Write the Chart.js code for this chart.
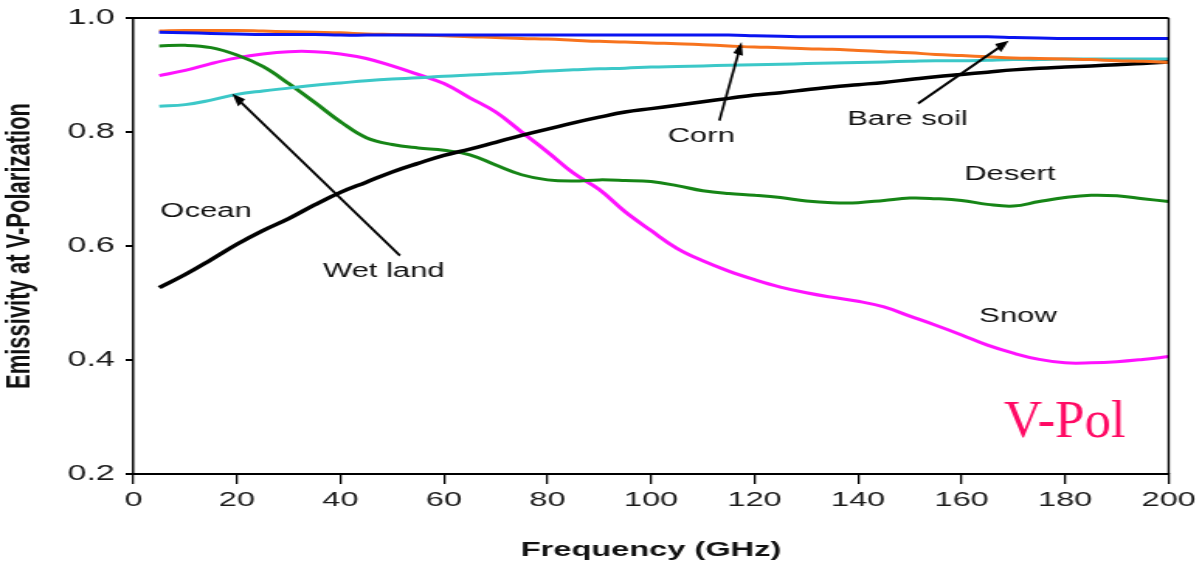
<!DOCTYPE html>
<html>
<head>
<meta charset="utf-8">
<script src="https://cdn.jsdelivr.net/npm/chart.js@4.4.1/dist/chart.umd.min.js"></script>
<style>
  html, body { margin: 0; padding: 0; background: #fff; }
</style>
</head>
<body>
<canvas id="chart" width="775" height="569" style="width:1202px;height:569px"></canvas>
<script>
// the source picture was stretched sideways, so the canvas is drawn narrow and widened by css
const STRETCH = 1202 / 775;

const freqs = [5, 10, 15, 20, 25, 30, 35, 40, 45, 50, 55, 60, 65, 70, 75, 80, 85, 90, 95, 100,
               105, 110, 115, 120, 125, 130, 135, 140, 145, 150, 155, 160, 165, 170, 175, 180, 185, 190, 195, 200];

const bareSoil = [0.975, 0.974, 0.973, 0.972, 0.971, 0.971, 0.971, 0.970, 0.970, 0.970, 0.970, 0.970, 0.970, 0.970, 0.970, 0.970, 0.970, 0.970, 0.970, 0.970,
                  0.970, 0.970, 0.970, 0.969, 0.968, 0.967, 0.967, 0.967, 0.967, 0.967, 0.967, 0.967, 0.967, 0.966, 0.965, 0.964, 0.964, 0.964, 0.964, 0.964];
const corn = [0.977, 0.978, 0.978, 0.978, 0.977, 0.976, 0.975, 0.974, 0.972, 0.971, 0.970, 0.969, 0.967, 0.966, 0.964, 0.963, 0.961, 0.959, 0.958, 0.956,
              0.955, 0.953, 0.951, 0.949, 0.948, 0.946, 0.945, 0.943, 0.941, 0.939, 0.936, 0.934, 0.932, 0.930, 0.929, 0.928, 0.927, 0.925, 0.924, 0.922];
const wetland = [0.845, 0.848, 0.856, 0.866, 0.872, 0.877, 0.882, 0.886, 0.890, 0.893, 0.895, 0.898, 0.900, 0.902, 0.904, 0.907, 0.909, 0.911, 0.912, 0.914,
                 0.915, 0.916, 0.917, 0.918, 0.919, 0.920, 0.921, 0.922, 0.923, 0.924, 0.925, 0.925, 0.926, 0.927, 0.927, 0.928, 0.928, 0.928, 0.928, 0.928];
const desert = [0.951, 0.952, 0.948, 0.935, 0.915, 0.885, 0.852, 0.818, 0.790, 0.778, 0.772, 0.768, 0.760, 0.742, 0.725, 0.716, 0.714, 0.716, 0.715, 0.713,
                0.706, 0.697, 0.692, 0.689, 0.685, 0.679, 0.676, 0.676, 0.680, 0.684, 0.683, 0.680, 0.673, 0.670, 0.678, 0.685, 0.689, 0.688, 0.683, 0.678];
const snow = [0.899, 0.908, 0.920, 0.930, 0.937, 0.941, 0.941, 0.937, 0.929, 0.916, 0.901, 0.885, 0.860, 0.835, 0.800, 0.765, 0.728, 0.699, 0.660, 0.627,
              0.596, 0.574, 0.556, 0.541, 0.528, 0.518, 0.510, 0.503, 0.493, 0.477, 0.461, 0.444, 0.426, 0.412, 0.401, 0.395, 0.395, 0.397, 0.401, 0.406];
const ocean = [0.527, 0.550, 0.576, 0.603, 0.627, 0.648, 0.672, 0.694, 0.712, 0.730, 0.745, 0.759, 0.770, 0.782, 0.794, 0.805, 0.816, 0.826, 0.835, 0.841,
               0.847, 0.853, 0.859, 0.865, 0.869, 0.874, 0.879, 0.883, 0.887, 0.892, 0.897, 0.901, 0.905, 0.909, 0.912, 0.914, 0.916, 0.918, 0.920, 0.923];

const xTicks = [0, 20, 40, 60, 80, 100, 120, 140, 160, 180, 200];
const yTicks = [0.2, 0.4, 0.6, 0.8, 1.0];

// text labels placed in data units (left edge, middle)
const labelNames = ['Ocean', 'Wet land', 'Corn', 'Bare soil', 'Desert', 'Snow'];
const labelFreq = [5.2, 36.6, 103.2, 137.9, 160.5, 163.4];
const labelVal = [0.661, 0.555, 0.792, 0.822, 0.726, 0.476];

// arrows: tail -> head, data units
const arrowFrom = [[51.5, 0.583], [113.2, 0.820], [151.6, 0.850]];
const arrowTo = [[19.1, 0.867], [117.5, 0.958], [169.1, 0.960]];

function toPoints(vals) {
    return freqs.map((f, i) => ({ x: f, y: vals[i] }));
}

function line(label, vals, color, width) {
    return {
        label: label,
        data: toPoints(vals),
        borderColor: color,
        borderWidth: width,
        pointRadius: 0,
        tension: 0.4,
        fill: false
    };
}

const overlay = {
    id: 'overlay',
    afterDatasetsDraw(chart) {
        const { ctx, chartArea, scales } = chart;
        const xs = scales.x, ys = scales.y;
        ctx.save();

        // top and right frame
        ctx.strokeStyle = '#000';
        ctx.lineWidth = 2;
        ctx.beginPath();
        ctx.moveTo(chartArea.left, chartArea.top);
        ctx.lineTo(chartArea.right, chartArea.top);
        ctx.stroke();
        ctx.lineWidth = 1.4;
        ctx.beginPath();
        ctx.moveTo(chartArea.right, chartArea.top);
        ctx.lineTo(chartArea.right, chartArea.bottom);
        ctx.stroke();

        ctx.fillStyle = '#111';
        ctx.font = '20px "Liberation Sans", Arial, sans-serif';
        ctx.textAlign = 'left';
        ctx.textBaseline = 'middle';
        labelNames.forEach((t, i) => {
            ctx.fillText(t, xs.getPixelForValue(labelFreq[i]), ys.getPixelForValue(labelVal[i]));
        });

        // arrows and the V-Pol tag are not stretched in the picture
        ctx.scale(1 / STRETCH, 1);
        ctx.strokeStyle = '#000';
        ctx.fillStyle = '#000';
        ctx.lineWidth = 2.5;
        arrowFrom.forEach((a, i) => {
            const x1 = xs.getPixelForValue(a[0]) * STRETCH, y1 = ys.getPixelForValue(a[1]);
            const x2 = xs.getPixelForValue(arrowTo[i][0]) * STRETCH, y2 = ys.getPixelForValue(arrowTo[i][1]);
            const ang = Math.atan2(y2 - y1, x2 - x1);
            const hl = 13, hw = 5;
            ctx.beginPath();
            ctx.moveTo(x1, y1);
            ctx.lineTo(x2 - Math.cos(ang) * hl * 0.8, y2 - Math.sin(ang) * hl * 0.8);
            ctx.stroke();
            ctx.beginPath();
            ctx.moveTo(x2, y2);
            ctx.lineTo(x2 - Math.cos(ang) * hl - Math.sin(ang) * hw, y2 - Math.sin(ang) * hl + Math.cos(ang) * hw);
            ctx.lineTo(x2 - Math.cos(ang) * hl + Math.sin(ang) * hw, y2 - Math.sin(ang) * hl - Math.cos(ang) * hw);
            ctx.closePath();
            ctx.fill();
        });

        ctx.fillStyle = '#ff0a64';
        ctx.font = '53px "Liberation Serif", "Times New Roman", serif';
        ctx.textBaseline = 'alphabetic';
        ctx.fillText('V-Pol', xs.getPixelForValue(168.2) * STRETCH, ys.getPixelForValue(0.2646));

        ctx.restore();
    }
};

const ctx = document.getElementById('chart').getContext('2d');

new Chart(ctx, {
    type: 'line',
    data: {
        datasets: [
            line('Bare soil', bareSoil, '#0a14f0', 3),
            line('Corn', corn, '#f7731e', 3),
            line('Ocean', ocean, '#000000', 3.5),
            line('Wetland', wetland, '#3cc8c8', 3),
            line('Desert', desert, '#168516', 3),
            line('Snow', snow, '#ff12ff', 3)
        ]
    },
    options: {
        responsive: false,
        animation: false,
        devicePixelRatio: 1,
        layout: { padding: { top: 9, right: 20, left: 0, bottom: 0 } },
        plugins: {
            legend: { display: false },
            tooltip: { enabled: false }
        },
        scales: {
            x: {
                type: 'linear',
                min: 0,
                max: 200,
                afterFit: (s) => { s.height = 95; },
                afterBuildTicks: (s) => { s.ticks = xTicks.map(v => ({ value: v })); },
                grid: { drawOnChartArea: false, drawTicks: true, tickLength: 10, color: '#000', lineWidth: 1.3 },
                border: { color: '#000', width: 2 },
                ticks: {
                    color: '#1a1a1a',
                    padding: 4,
                    maxRotation: 0,
                    font: { family: '"Liberation Sans", Arial, sans-serif', size: 21 },
                    callback: (v) => String(v)
                },
                title: {
                    display: true,
                    text: 'Frequency (GHz)',
                    color: '#111',
                    padding: { top: 0, bottom: 6 },
                    font: { family: '"Liberation Sans", Arial, sans-serif', size: 21, weight: 'bold' }
                }
            },
            y: {
                min: 0.2,
                max: 1.0,
                afterFit: (s) => { s.width = 86; },
                afterBuildTicks: (s) => { s.ticks = yTicks.map(v => ({ value: v })); },
                grid: { drawOnChartArea: false, drawTicks: true, tickLength: 5, color: '#000', lineWidth: 2 },
                border: { color: '#000', width: 1.5 },
                ticks: {
                    color: '#1a1a1a',
                    padding: 7,
                    font: { family: '"Liberation Sans", Arial, sans-serif', size: 22, lineHeight: 1 },
                    callback: (v) => v.toFixed(1)
                },
                title: {
                    display: true,
                    text: 'Emissivity at V-Polarization',
                    color: '#111',
                    padding: { top: 0, bottom: 0 },
                    font: { family: '"Liberation Sans", Arial, sans-serif', size: 22, weight: 'bold' }
                }
            }
        }
    },
    plugins: [overlay]
});
</script>
</body>
</html>
